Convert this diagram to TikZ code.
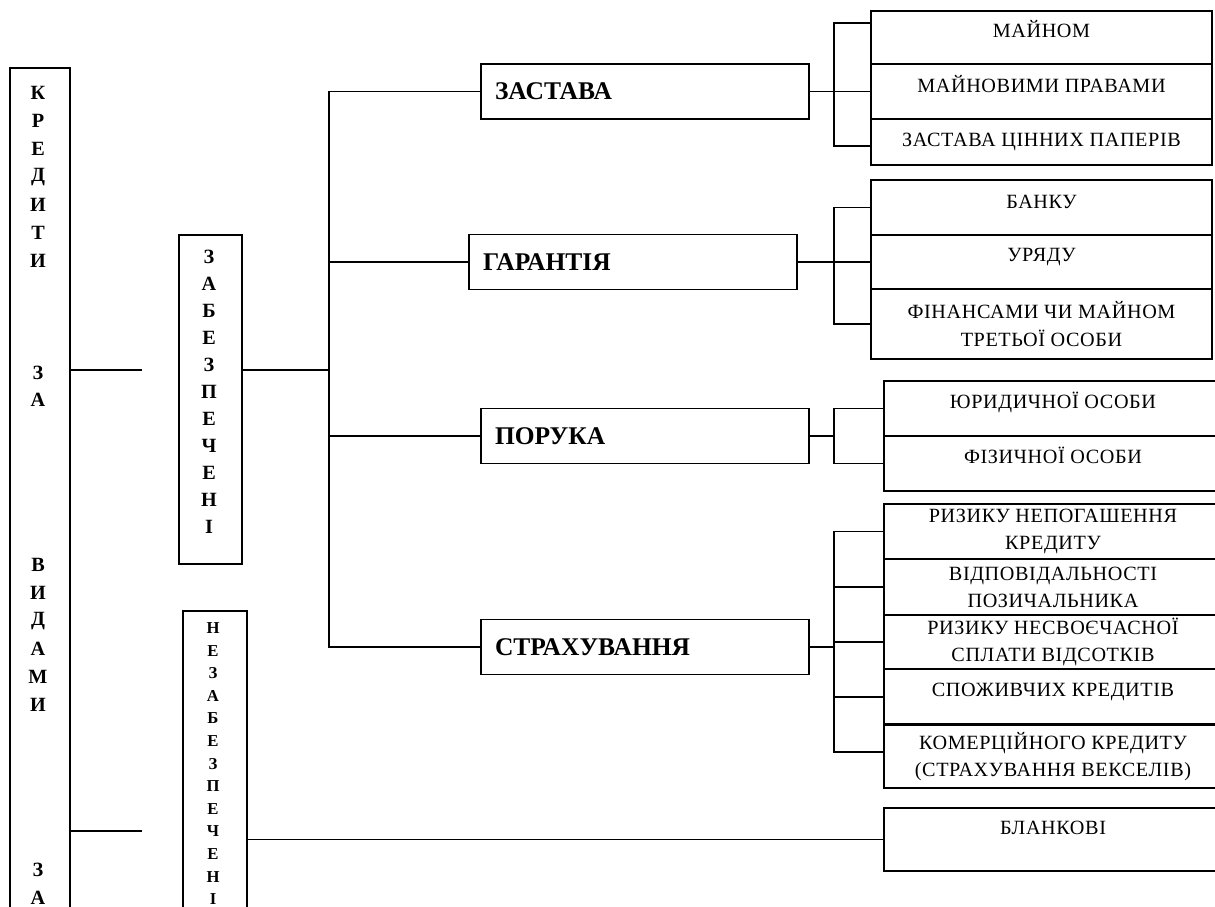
\documentclass[tikz,border=0pt]{standalone}
\usepackage{fontspec}
\setmainfont{Liberation Serif}
\newfontfamily\cellfont[LetterSpace=3]{Liberation Serif}
\usetikzlibrary{positioning, calc}

\begin{document}
\begin{tikzpicture}[
  x=0.02cm, y=-0.02cm,
  line width=0.8pt,
  box/.style={
    draw,
    line width=0.8pt,
    inner sep=0pt
  },
  vbox/.style={
    box,
    minimum width=1.26cm
  },
  kind/.style={
    box,
    minimum width=6.56cm,
    minimum height=1.1cm,
    text width=6.0cm,
    align=left,
    inner xsep=0.28cm,
    font=\bfseries\fontsize{14.5}{17}\selectfont
  },
  cell/.style={
    box,
    minimum width=6.82cm,
    align=center,
    font=\cellfont\fontsize{11.5}{15.4}\selectfont
  },
  wcell/.style={cell, minimum width=6.76cm},
  raised/.style={text height=0.3cm, text depth=#1},
  raised/.default=0.32cm,
  letter/.style={font=\bfseries\fontsize{11.5}{13}\selectfont, inner sep=0pt},
  smallletter/.style={font=\bfseries\fontsize{9.5}{11}\selectfont, inner sep=0pt}
]

\useasboundingbox (0,0) rectangle (1215,907);
\clip (0,0) rectangle (1215,907);

% Left column: vertical titles, letter by letter.
\node[box, line width=1.2pt, minimum width=1.2cm, minimum height=17.84cm] (credit) at (40,514) {};
\foreach \ch/\y [count=\i] in {К/93, Р/121, Е/149, Д/177, И/205, Т/233, И/261,
    З/373, А/400, В/565, И/593, Д/621, А/649, М/677, И/705, З/870, А/898}
  \node[letter] (cr\i) at (38,\y) {\ch};

\node[vbox, minimum height=6.58cm] (secured) at (210.5,399.5) {};
\foreach \ch/\y [count=\i] in {З/257, А/284, Б/311, Е/338, З/365, П/392, Е/419,
    Ч/446, Е/473, Н/500, І/527}
  \node[letter] (se\i) at (209,\y) {\ch};

\node[vbox, minimum width=1.28cm, minimum height=6.98cm] (unsecured) at (215,785.5) {};
\foreach \ch/\y [count=\i] in {Н/628, Е/651, З/673, А/696, Б/718, Е/741, З/764,
    П/786, Е/809, Ч/831, Е/854, Н/877, І/899}
  \node[smallletter] (un\i) at (213,\y) {\ch};

% Short stubs from the left box.
\coordinate (secgap) at (142,370);
\coordinate (unsecgap) at (142,831);
\draw (secgap -| credit.east) -- (secgap);
\draw (unsecgap -| credit.east) -- (unsecgap);

% Middle column: kinds of security.
\node[kind] (pledge) at (645,91.5) {ЗАСТАВА};
\node[kind] (guarantee) at (633,262) {ГАРАНТІЯ};
\node[kind] (surety) at (645,436) {ПОРУКА};
\node[kind] (insurance) at (645,647) {СТРАХУВАННЯ};

\coordinate (trunk) at (329,0);
\draw (secured.east |- secgap) -- (secgap -| trunk);
\draw (pledge.west) -- (pledge.west -| trunk) -- (insurance.west -| trunk) -- (insurance.west);
\draw (guarantee.west) -- (guarantee.west -| trunk);
\draw (surety.west) -- (surety.west -| trunk);

% Right column: sub-kinds.
\node[cell, minimum height=1.06cm, raised] (property) at (1041.5,37.5) {МАЙНОМ};
\node[cell, minimum height=1.1cm, raised=0.26cm] (rights) at (1041.5,91.5) {МАЙНОВИМИ ПРАВАМИ};
\node[cell, minimum height=0.92cm] (securities) at (1041.5,142) {ЗАСТАВА ЦІННИХ ПАПЕРІВ};

\node[cell, minimum height=1.1cm, raised=0.28cm] (bankg) at (1041.5,207.5) {БАНКУ};
\node[cell, minimum height=1.08cm, raised] (govt) at (1041.5,262) {УРЯДУ};
\node[cell, minimum height=1.4cm] (thirdparty) at (1041.5,324) {ФІНАНСАМИ ЧИ МАЙНОМ\\ТРЕТЬОЇ ОСОБИ};

\node[wcell, minimum height=1.1cm, raised] (legal) at (1053,408.5) {ЮРИДИЧНОЇ ОСОБИ};
\node[wcell, minimum height=1.1cm, raised] (natural) at (1053,463.5) {ФІЗИЧНОЇ ОСОБИ};

\node[wcell, minimum height=1.1cm] (nonrepay) at (1053,531.5) {РИЗИКУ НЕПОГАШЕННЯ\\КРЕДИТУ};
\node[wcell, minimum height=1.12cm] (liability) at (1053,587) {ВІДПОВІДАЛЬНОСТІ\\ПОЗИЧАЛЬНИКА};
\node[wcell, minimum height=1.08cm] (lateint) at (1053,642) {РИЗИКУ НЕСВОЄЧАСНОЇ\\СПЛАТИ ВІДСОТКІВ};
\node[wcell, minimum height=1.12cm, raised] (consumer) at (1053,697) {СПОЖИВЧИХ КРЕДИТІВ};
\node[wcell, minimum height=1.26cm] (commercial) at (1053,756.5) {КОМЕРЦІЙНОГО КРЕДИТУ\\(СТРАХУВАННЯ ВЕКСЕЛІВ)};
\draw[line width=1.4pt] (commercial.north west) -- (commercial.north east);

\node[wcell, minimum height=1.26cm, raised=0.5cm] (blank) at (1053,839.5) {БЛАНКОВІ};

% Forks between middle and right columns.
\coordinate (fork) at (834,0);
\draw (pledge.east) -- (rights.west);
\draw ([yshift=0.29cm]property.west) -- ([yshift=0.29cm]property.west -| fork)
  -- ([yshift=-0.08cm]securities.west -| fork) -- ([yshift=-0.08cm]securities.west);

\draw (guarantee.east) -- (govt.west);
\draw (bankg.west) -- (bankg.west -| fork) -- (thirdparty.west -| fork) -- (thirdparty.west);

\draw (surety.east) -- (surety.east -| fork);
\draw (legal.west) -- (legal.west -| fork) -- (natural.west -| fork) -- (natural.west);

\draw (insurance.east) -- (insurance.east -| fork);
\draw (nonrepay.west) -- (nonrepay.west -| fork)
  -- ([yshift=0.09cm]commercial.west -| fork) -- ([yshift=0.09cm]commercial.west);
\draw (liability.west) -- (liability.west -| fork);
\draw (lateint.west) -- (lateint.west -| fork);
\draw (consumer.west) -- (consumer.west -| fork);

% Unsecured credits.
\draw (blank.west -| unsecured.east) -- (blank.west);

\end{tikzpicture}
\end{document}
